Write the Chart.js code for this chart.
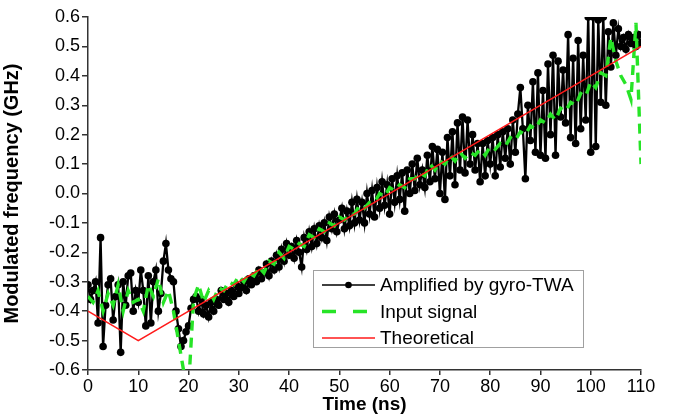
<!DOCTYPE html>
<html>
<head>
<meta charset="utf-8">
<script src="https://cdn.jsdelivr.net/npm/chart.js@4.4.1/dist/chart.umd.min.js"></script>
<style>
  html, body { margin:0; padding:0; background:#fff; }
  canvas { display:block; }
</style>
</head>
<body>
<canvas id="chart" width="678" height="419"></canvas>
<script>
/* ── DATA ── */
// amplified output, sampled every 0.5 ns from 0 to 110 ns
const AMP_STEP = 0.5;
const amplified = [
  -0.31,-0.36,-0.33,-0.30,-0.44,-0.15,-0.52,-0.38,-0.31,-0.29,
  -0.43,-0.35,-0.31,-0.54,-0.30,-0.38,-0.28,-0.27,-0.40,-0.33,
  -0.37,-0.26,-0.33,-0.45,-0.28,-0.44,-0.30,-0.26,-0.40,-0.34,
  -0.23,-0.17,-0.26,-0.29,-0.30,-0.40,-0.46,-0.52,-0.50,-0.47,
  -0.45,-0.39,-0.36,-0.35,
  -0.40,-0.36,-0.41,-0.38,-0.42,-0.37,-0.40,-0.36,-0.38,-0.33,
  -0.36,-0.34,-0.37,-0.33,-0.35,-0.31,-0.34,-0.32,-0.30,-0.33,
  -0.29,-0.31,-0.28,-0.30,-0.26,-0.29,-0.27,-0.24,-0.28,-0.23,
  -0.26,-0.21,-0.25,-0.19,-0.23,-0.17,-0.21,-0.18,-0.22,-0.16,
  -0.20,-0.25,-0.15,-0.19,-0.13,-0.18,-0.12,-0.17,-0.11,-0.15,
  -0.10,-0.16,-0.08,-0.12,-0.07,-0.13,-0.09,-0.05,-0.12,-0.06,
  -0.11,-0.03,-0.10,-0.02,-0.09,-0.03,-0.10, 0.00,-0.07, 0.01,
  -0.08, 0.02,-0.05, 0.04,-0.04, 0.03,-0.07, 0.05,-0.03, 0.06,
  -0.02, 0.07,-0.06, 0.08, 0.00, 0.10, 0.01, 0.12, 0.03, 0.08,
   0.02, 0.13, 0.04, 0.16, 0.05, 0.15, 0.00, 0.14,-0.02, 0.19,
   0.06, 0.21, 0.03, 0.24, 0.08, 0.26, 0.07, 0.25, 0.10, 0.20,
   0.08, 0.17, 0.04, 0.17, 0.06, 0.18, 0.10, 0.19, 0.06, 0.20,
   0.09, 0.21, 0.12, 0.22, 0.10, 0.25, 0.14, 0.27, 0.36, 0.22,
   0.05, 0.30, 0.18, 0.38, 0.14, 0.41, 0.13, 0.35, 0.12, 0.44,
   0.20, 0.47, 0.13, 0.45, 0.26, 0.42, 0.24, 0.54, 0.19, 0.46,
   0.17, 0.52, 0.22, 0.47, 0.25, 0.60, 0.14, 0.60, 0.16, 0.59,
   0.31, 0.60, 0.30, 0.55, 0.43, 0.58, 0.47, 0.56, 0.50, 0.53,
   0.49, 0.54, 0.51, 0.53, 0.50, 0.54, 0.51
];

// input signal, sampled every 1 ns from 0 to 110 ns
const INPUT_STEP = 1;
const inputSignal = [
  -0.35,-0.37,-0.33,-0.40,-0.34,-0.38,-0.31,-0.40,-0.33,-0.37,
  -0.36,-0.40,-0.31,-0.35,-0.29,-0.37,-0.33,-0.40,-0.50,-0.60,
  -0.66,-0.36,-0.31,-0.37,-0.33,-0.36,-0.32,-0.33,-0.30,-0.31,
  -0.28,-0.30,-0.27,-0.28,-0.25,-0.27,-0.23,-0.24,-0.20,-0.22,
  -0.18,-0.19,-0.17,-0.18,-0.14,-0.15,-0.12,-0.13,-0.10,-0.11,
  -0.08,-0.09,-0.07,-0.07,-0.04,-0.05,-0.03,-0.03, 0.00,-0.01,
   0.02, 0.01, 0.03, 0.02, 0.05, 0.05, 0.07, 0.06, 0.10, 0.08,
   0.11, 0.10, 0.13, 0.11, 0.14, 0.12, 0.14, 0.13, 0.15, 0.13,
   0.16, 0.15, 0.17, 0.16, 0.19, 0.18, 0.21, 0.20, 0.23, 0.22,
   0.25, 0.24, 0.27, 0.25, 0.29, 0.28, 0.31, 0.30, 0.34, 0.33,
   0.38, 0.36, 0.41, 0.40, 0.53, 0.45, 0.40, 0.37, 0.32, 0.58, 0.10
];

// theoretical chirp
const theoryTime  = [0, 10, 110];
const theoryValue = [-0.4, -0.5, 0.5];

const X_MIN = 0, X_MAX = 110, X_STEP = 10;
const Y_MIN = -0.6, Y_MAX = 0.6, Y_STEP = 0.1;

const toPoints = (vals, step) => vals.map((v, i) => ({ x: i * step, y: v }));

/* ── LEGEND BOX (drawn inside the plot) ── */
const legendBox = {
  id: 'legendBox',
  afterDraw(chart) {
    const { ctx, chartArea: a } = chart;
    const x0 = a.left + 225, y0 = a.top + 253, w = 270, h = 77;
    ctx.save();
    ctx.fillStyle = '#fff';
    ctx.fillRect(x0, y0, w, h);
    ctx.strokeStyle = '#a0a0a0';
    ctx.lineWidth = 1;
    ctx.strokeRect(x0 + 0.5, y0 + 0.5, w, h);
    chart.data.datasets.forEach((ds, i) => {
      const y = y0 + 15 + i * 26.5;
      ctx.strokeStyle = ds.borderColor;
      ctx.lineWidth = i === 0 ? 1.6 : ds.borderWidth;
      ctx.setLineDash(i === 1 ? [14, 17] : []);
      ctx.beginPath(); ctx.moveTo(x0 + 9, y); ctx.lineTo(x0 + 62, y); ctx.stroke();
      ctx.setLineDash([]);
      if (ds.pointRadius) {
        ctx.fillStyle = ds.borderColor;
        ctx.beginPath(); ctx.arc(x0 + 35.5, y, 3.3, 0, Math.PI * 2); ctx.fill();
      }
      ctx.fillStyle = '#000';
      ctx.font = '19px "Liberation Sans", Arial, sans-serif';
      ctx.textBaseline = 'middle';
      ctx.fillText(ds.label, x0 + 67, y + 1);
    });
    ctx.restore();
  }
};

const tickFont  = { family: '"Liberation Sans", Arial, sans-serif', size: 18 };
const titleFont = { family: '"Liberation Sans", Arial, sans-serif', size: 19, weight: 'bold' };

new Chart(document.getElementById('chart'), {
  type: 'line',
  data: {
    datasets: [
      { label: 'Amplified by gyro-TWA', data: toPoints(amplified, AMP_STEP),
        borderColor: '#000', backgroundColor: '#000', borderWidth: 2.3,
        pointRadius: 3.8, pointBorderWidth: 0, pointBackgroundColor: '#000', order: 3 },
      { label: 'Input signal', data: toPoints(inputSignal, INPUT_STEP),
        borderColor: '#27e427', borderWidth: 3.4, borderDash: [10, 7], pointRadius: 0, order: 2 },
      { label: 'Theoretical', data: theoryTime.map((t, i) => ({ x: t, y: theoryValue[i] })),
        borderColor: '#ff1a1a', borderWidth: 1.6, pointRadius: 0, order: 1 }
    ]
  },
  options: {
    responsive: false,
    animation: false,
    layout: { padding: { top: 17, right: 37, left: 0, bottom: 0 } },
    plugins: { legend: { display: false }, tooltip: { enabled: false } },
    scales: {
      x: {
        type: 'linear', min: X_MIN, max: X_MAX,
        ticks: { stepSize: X_STEP, font: tickFont, color: '#000', padding: 1, maxRotation: 0 },
        grid: { drawOnChartArea: false, tickLength: 5, color: '#333', lineWidth: 1.5 },
        border: { color: '#333', width: 1.5 },
        title: { display: true, text: 'Time (ns)', font: titleFont, color: '#000', padding: { top: 0, bottom: 3 } },
        afterFit(s) { s.height = 49; }
      },
      y: {
        min: Y_MIN, max: Y_MAX,
        ticks: { stepSize: Y_STEP, font: tickFont, color: '#000', padding: 2,
                 callback: v => Math.abs(v) < 1e-9 ? '0.0' : v.toFixed(1) },
        grid: { drawOnChartArea: false, tickLength: 6, color: '#333', lineWidth: 1.5 },
        border: { color: '#333', width: 1.5 },
        title: { display: true, text: 'Modulated frequency (GHz)', font: { ...titleFont, size: 20 }, color: '#000', padding: { top: 0, bottom: 10 } },
        afterFit(s) { s.width = 88; }
      }
    }
  },
  plugins: [legendBox]
});
</script>
</body>
</html>
